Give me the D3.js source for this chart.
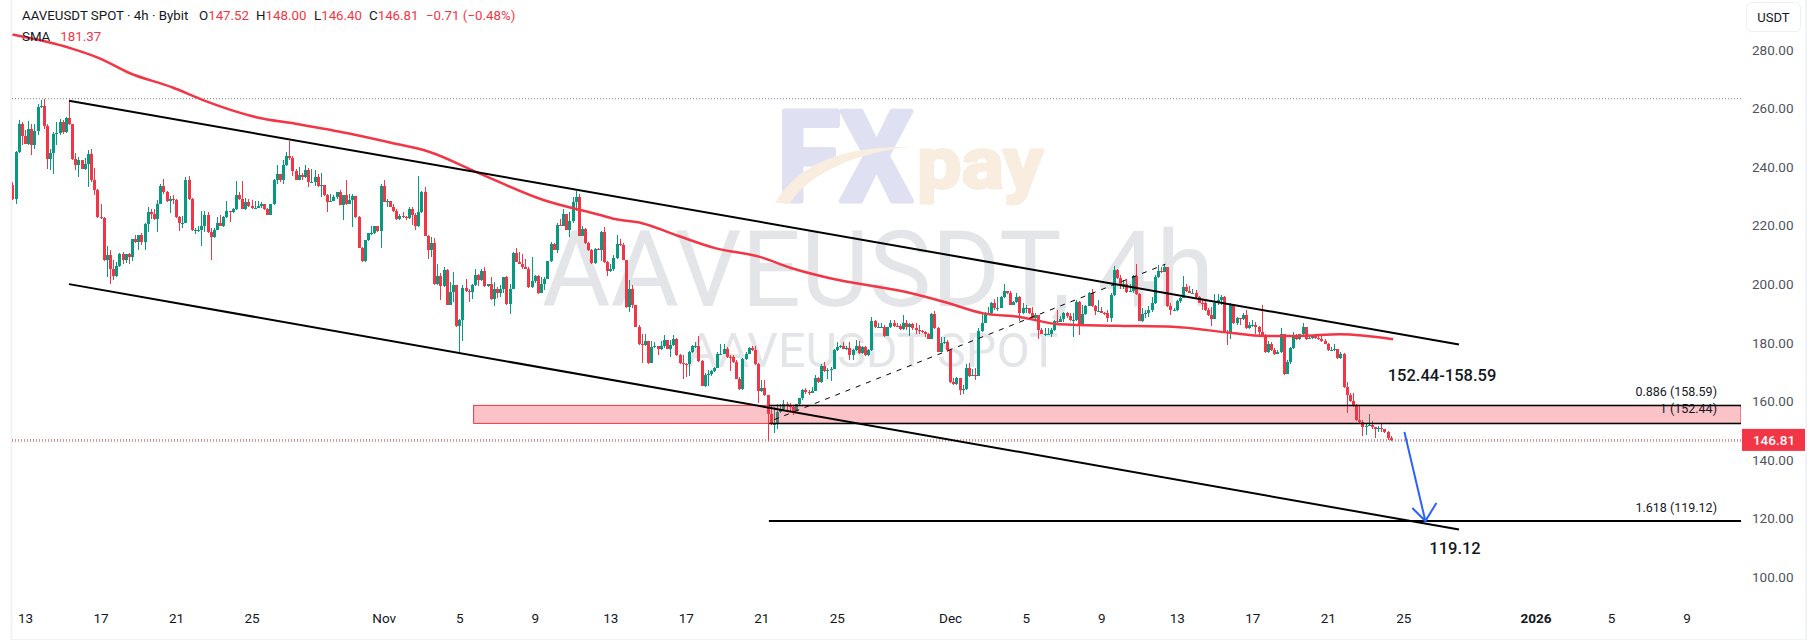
<!DOCTYPE html>
<html>
<head>
<meta charset="utf-8">
<style>
  html, body { margin: 0; padding: 0; background: #fff; overflow: hidden; }
  text { font-family: Roboto, sans-serif; }
</style>
<script src="https://cdn.jsdelivr.net/npm/d3@7"></script>
</head>
<body>
<div id="viz-container"></div>
<script>
let svgWidth = 1817;
let svgHeight = 641;

// 4h bars, first bar is 12 Oct 08:00
let firstOpen = 233.7;
let closes = [
228.9,245.1,254.6,250.6,247.8,252.8,247.5,252.2,260.3,260.7,253.9,242.6,244.6,251.2,251.6,255.3,251.9,256.7,254.8,242.6,
240.6,242.5,239.3,241.1,244.3,235.5,232,222.9,222.7,208.1,209.8,205.1,202.7,206.2,210.2,208.1,210.2,209.3,215.3,214.4,
216.7,214.3,220.4,224.6,223.9,222.3,227.5,233.4,231.5,228.4,229,228.6,222.9,220.9,220.9,235.4,228.9,218.4,218.6,218.6,
219.8,223.5,217.8,216.1,218.6,221,219.9,222.9,224.9,224.6,225.8,230.3,229,225.7,228,226.6,226.1,226.1,226.7,227.2,
225.8,223.6,227.2,235.7,237.7,235.7,240.6,243.7,243,238.6,235.7,237.2,236.4,238.9,234.8,235,236.4,233.4,233.8,230.4,
228.1,228.3,229.6,231.4,227,230.4,227.3,228.7,230,223,212.4,207.8,215,217.3,217.3,219.8,218.1,233.4,228.1,228.3,
226.4,225,222.2,223.3,223,222.6,225.8,223.5,219.9,224.7,231.5,216.5,211.6,213.9,200,202.7,199.3,204.8,193,197.4,
199.6,185.6,187.9,198.6,197.7,197.3,199.6,203,201.3,204.4,199.3,200.2,194.9,198.5,197,198.5,202.3,193.2,198.5,210.7,
207.6,207,205.7,205.3,199,201,202.8,197.1,200.2,201.9,207.8,213.6,211.8,220.1,220,223.9,218.6,221.6,227.9,229.8,
216.5,218.7,214,211.6,207.2,212.1,211.8,217.8,207.6,204.5,205,209,213.8,213.3,208.4,192.2,198.5,192.8,185.4,179.5,
179.1,180.5,173.2,178.6,179,177.8,178.8,180.8,178,179.1,181.4,175.7,172.9,172.7,172.6,176.9,178.8,179,173.8,165.2,
169.1,169.2,170.4,171.5,176,176.1,177.8,175.1,175,173.4,167.7,164.1,174.6,176.3,178.3,177.4,172.6,163.5,164.5,162,
155.8,152.2,152.3,156.4,157.5,159,158.5,157.9,156.8,158.9,161,163.8,163,162.8,163.6,168.1,166.6,171.9,170.4,170.6,
171.1,177.6,178.6,178.8,178,178.2,175.9,177.6,178.8,176.5,178.5,175.7,177.4,187.5,185.2,185.3,185.3,182.4,185.2,186.6,
185.7,185.6,184.7,186.6,185.2,186.3,184.9,184.3,184,183.7,182.9,181.4,189.7,184.9,176.9,180,180.1,177.4,166.6,165.9,
168.1,164,164.1,171.5,168.6,168.9,168.6,184,186.8,190,190.3,193.6,191.7,191.8,195.7,197.5,197,192.9,194,195.7,
190.2,191.7,191.8,190,188.5,189.4,184.3,183.1,183.1,183.1,184.5,187.5,187.1,188.1,190,189.2,187.7,187.7,193.9,185.6,
189.9,192.5,197,192.5,190.8,190.8,190.2,190,188.3,196.2,204.8,202.2,199.6,200,197.4,197.7,202.7,196.6,187.5,189.7,
190.2,191.1,193.4,202.5,204.5,204.2,205.7,192.5,191.1,191.3,194.3,195.4,198.9,197.7,197.1,197.1,195.7,193.7,193.4,191.1,
189.4,188,193.6,194.5,195.7,183.7,183.4,193.1,186.6,188.3,188,189.4,184.9,186,186.1,185.2,183.7,182.4,176.7,179.7,
177.5,176.3,176.7,182.9,169.3,173.3,178.3,181.8,181.1,182.9,185.2,181.4,181.5,182.2,181.7,181.4,180.6,179.7,177.5,177.5,
177.7,174.8,176.3,164.9,162,160.2,158.3,153.6,153,151.3,151.5,152,151.1,150.7,150.9,150.4,149.6,147.52,146.81
];
let highs = [
234.9,245.5,256.2,255.5,252.5,255.8,254.8,254.8,261.4,262.8,263.3,254.8,246.3,252,255.4,256.5,256.2,256.9,262.8,254.4,
244.8,243.4,242.5,242.9,245.7,246.3,239.8,232.6,227.3,223,212.9,211.6,208.4,207.6,210.7,211.1,210.4,210.7,215.5,216.7,
216.9,217.6,220.7,226.4,225.8,225.8,228.6,234.3,235.8,231.7,230.1,230.3,229,223.2,223.2,236.4,236.8,229.5,219,219.9,
225,225,224.6,219,219,222.9,223.5,223.2,228.3,225,226,235.1,231.5,235.1,229.5,229.2,228.6,228.4,228.3,228.1,
227.3,226.1,227.5,235.9,240.6,237.7,242.3,245.1,248.8,243.7,239.4,240,238,240.6,239.5,239.3,238.9,237.5,237.8,233.8,
230.9,230.7,230.4,231.5,232.3,230.4,235.5,230.9,230.6,230,223.2,212.7,215.2,217.3,219.8,219.9,219.9,234.3,235.5,229.2,
228.1,227.5,225.5,224.1,224.7,223.2,226.4,226.4,224.3,237,231.8,233,216.7,216.1,215.6,207,203.9,205.7,205,200.8,
204.2,199.6,188,199.6,201.6,198.2,200,205.3,203.4,205,205.9,200.2,202.3,200.8,199.1,199.6,202.5,202.8,200.2,211,
212.5,211,210.4,208.7,205.9,209.1,203,203,202.5,202.3,207.9,214.4,213.9,220.9,222.4,225.5,224.1,224.7,229.8,231.8,
230.7,220,219,214.4,212.1,212.5,212.4,218.2,219.5,207.9,207,209.9,216.7,215.5,214.1,208.4,201.5,199.6,192.9,186,
182.9,182.9,180.5,180.6,180.3,178.8,180.6,182.5,180.8,180.8,182.5,181.7,176.3,175.7,172.9,177.2,179.1,180.3,182.2,174.2,
169.5,170.6,170.6,171.7,176.8,179.5,179.5,178.6,175.7,175.7,174.2,168.3,174.9,176.8,178.5,178.8,179,173.1,167.2,167.4,
162.1,158.6,158.1,159.2,159.2,160.3,159.8,159.4,158.6,159.2,161.1,164.3,164.7,164,164.9,168.9,168.4,172.7,173.4,171.2,
171.7,177.9,180.3,179.1,180.3,179,180.3,178,181,180.6,178.8,178.8,178,188.8,187.9,186.8,186.8,186,185.4,187.7,
187.7,186.6,186.3,189.4,187.7,186.8,186.6,186.6,186,184.5,184,183.4,190,190.8,185.2,181.8,181.8,180.9,177.7,167.8,
168.4,167.9,165.5,172.7,172.9,170.9,171.2,184.9,190,190.5,192.2,193.9,194.8,195.7,195.9,200.2,197.8,197.7,194.3,196.8,
195.9,193.4,192.8,192,192.3,190,188.8,184.9,184.9,184.9,184.9,187.7,191.3,189,190.5,190.5,190,190,194.5,194.2,
192.8,192.8,197.4,198.5,192.8,194.5,192.2,190.5,191.1,196.8,206.1,205.3,203,201.4,201.9,200.2,203,207,197,191.7,
191.3,192.5,195.7,203,206.5,205.7,206.8,205.9,193.4,191.8,194.5,195.7,202.7,200.2,199.3,198.2,197.9,195.9,194.8,194.5,
191.7,192.3,196.5,196.6,196.2,195.9,184.3,193.4,193.1,188.8,188.6,190.1,191.3,187.1,187.9,187.1,185.7,192.8,182.8,180.5,
180.3,178.3,177.5,184.9,182.9,174,178.6,183.7,183.1,183.1,186.6,185.4,182.6,182.6,182.9,183.1,182.2,181.4,180,178.6,
179.7,178,176.9,176.5,166.6,162.9,162.9,159,158.7,153.6,152.4,155.6,153.2,151.2,151.5,152.2,150.7,149.8,148
];
let lows = [
228.6,227.3,244.8,247.6,247.7,247.4,244,246.3,250.8,260,253.1,239.4,238.9,237.7,247.4,250.8,251.4,251.6,254.2,242.3,
239.1,236.6,239.3,238.9,233.2,234.9,230.3,222.7,222.4,207.9,202.5,200,201.3,202.5,205.9,207,207.2,206.8,207.8,214.1,
211.6,213.3,211.6,217.8,222.4,222,217.8,227.3,230.9,228,224.4,227.5,222.7,218.2,219,220.9,228.6,218.2,217.2,217.8,
213,217.8,217.5,208.1,215.9,218.4,219.7,219.5,222.7,221.2,224.4,225.4,228.6,225.6,225.4,226.4,225.8,225.8,225.9,226.1,
225.4,223.5,223.5,227.1,234.1,234.9,234.1,240.2,242.3,236.8,235.5,236.5,235.6,236.2,233.2,234.6,233.4,233.2,229.8,230,
224.7,228.1,228.3,229.2,226.9,221.8,227,227.3,219.6,222.6,212.2,207.6,207.6,214.7,216.7,217,217.9,212.4,227.9,226.4,
226.2,224.7,221.8,222,222.7,221.8,222.1,220.1,218.4,219.6,224.3,216.4,208.7,209.1,199.6,199.6,194.5,199.1,192.8,192.8,
194,185.4,176.6,180.5,197.4,193.9,195,199.4,199.3,201.1,199.1,199.1,194.7,192.5,195.4,195.6,196.8,193,189.7,198.2,
207.5,206.8,205.3,205,198.7,198.8,200.4,196.6,197,197.9,201.6,207.5,211.6,210.7,219.9,219.8,218.4,216.1,221,225,
216.4,216.4,213.8,211.3,207,207,211.5,207.9,207.3,202.7,204.2,204.5,208.7,212.9,208.1,192,190.5,192,185.2,179.2,
173.1,179,172.6,173.2,178.3,175.7,177.6,178.3,177.8,175.1,178.8,175.6,172.6,167.5,168.3,168.6,176.5,178.3,173.5,165.1,
164.9,165.1,168.5,169.9,171.2,175.7,177.6,174.9,170.4,173.2,167.7,164,163.8,174.2,176,177.2,172.4,159.4,163.3,161.8,
146.4,151.9,149,150.7,156,156.9,156.9,156.4,155.2,156.6,158.5,160.6,162.6,162.3,162.8,164.6,166.3,166.3,170,167.7,
167,170.9,177.2,178.3,177.8,177.5,174,174.2,177.3,176.3,176.3,175.4,175.4,177,184.9,184.9,185.2,182,182.2,184.9,
185.4,185.4,184.5,184.5,184.5,182.2,184.3,183.1,183.1,183.4,181.8,181.1,181.3,184.6,176.7,176.7,179.5,176.9,166.4,165.5,
165.5,162.2,162.4,163.8,168.4,168.6,167.2,170.1,183.5,186.6,189.9,189.7,191.1,190.9,191.8,195.2,196.7,192.7,192.8,193.7,
187.5,189.7,190,189.7,188.3,187.7,181.1,182.9,182.2,182.9,182,184.1,186.6,186.9,186.9,188.6,187.5,182,187.4,182.6,
186.6,189.6,192.5,192.2,189.4,190.5,190,189.6,187.1,187.1,196,201.9,198.5,198.5,197,197.4,197,196.4,187.4,187.1,
188.3,188.8,190.5,193.2,202,203.9,204,192.3,189.4,190.8,190.9,193.7,195.1,197.4,196.8,196.8,195.3,193.4,191.3,190.9,
189.2,185.7,188,192.8,192.8,183.4,179.2,181.1,186.3,186.2,186.2,187.8,184.6,184.6,185.2,183.1,182.2,182.2,176.4,176.4,
177.2,175.7,176.3,176.5,169.1,169.2,172.7,177.9,180.9,180.9,182.5,180.9,181.2,181.2,181.4,180.9,180.3,179.4,177.2,177.1,
177.2,174.6,174.6,164.7,156,159.8,158.1,153.3,152.7,148.1,148.4,151.8,150.7,147.6,149.6,149.6,149.2,146.9,146.4
];

// SMA read at knots along the line: days since 13 Oct, value
let smaDays = [-0.66,2.44,3.95,5.56,7.79,9.43,12.24,14.49,17.1,19.15,21.4,24,27.46,30.46,31.25,32.68,34.5,36.55,38.97,40.57,42.64,46.66,48.7,50.7,52.75,54.77,57.8,60.8,63.8,65.6,67.4,69.65,72.46];
let smaValues = [285.2,280.5,277.1,272,267.2,262.8,257,254.6,251.5,248.6,245.2,238,228.7,223.6,222.2,220.8,216.7,212.3,209.2,205.5,202,197.3,193.9,190.1,188.7,186.3,185.8,185.4,183.4,182.3,182.3,182.9,181.2];

let priceTicks = [280,260,240,220,200,180,160,140,120,100];
let timeTickDays = [0,4,8,12,19,23,27,31,35,39,43,49,53,57,61,65,69,73,80,84,88];
let timeTickLabels = ["13","17","21","25","Nov","5","9","13","17","21","25","Dec","5","9","13","17","21","25","2026","5","9"];

let zoneLow = 152.44;
let zoneHigh = 158.59;
let zoneStartDay = 23.76;
let fibStartDay = 39.4;
let fibLevels = [158.59,152.44,119.12];
let fibWidths = [1.5,1.5,2];
let fibLabels = ["0.886 (158.59)","1 (152.44)","1.618 (119.12)"];

let upperChannelDays = [2.33,75.95];
let upperChannelPrices = [262.6,179.4];
let lowerChannelDays = [2.33,75.95];
let lowerChannelPrices = [200,116.2];
let dashDays = [39.67,60.4];
let dashPrices = [153.7,206.8];
let arrowDays = [73.06,74.17];
let arrowPrices = [149.5,119.1];
let lastPrice = 146.81;

let paneLeft = 12;
let paneRight = 1741;
let upColor = "#089981";
let downColor = "#f23645";

let viz = d3.select("#viz-container")
  .append("svg")
    .attr("width",svgWidth)
    .attr("height",svgHeight)
    .style("display","block")
    .style("background-color","white")
    ;

let xDay = d3.scaleLinear().domain([0,88]).range([25,1686.5]);
let y = d3.scaleLinear().domain([100,280]).range([577,49.8]);

function barX(i){
    // six bars per day, first one is 2/3 of a day before 13 Oct
    return xDay(-2/3 + i/6);
}

viz.append("defs").append("clipPath")
    .attr("id","pane")
  .append("rect")
    .attr("x",paneLeft)
    .attr("y",0)
    .attr("width",paneRight-paneLeft)
    .attr("height",svgHeight)
    ;

//// frame
viz.append("rect").attr("x",10.5).attr("y",0).attr("width",2).attr("height",640).attr("fill","#f0f3fa");
viz.append("rect").attr("x",1805).attr("y",0).attr("width",2).attr("height",640).attr("fill","#f0f3fa");
viz.append("rect").attr("x",10.5).attr("y",639).attr("width",1796).attr("height",1).attr("fill","#f0f3fa");

//// watermarks
let marks = viz.append("g").attr("class","watermark");
marks.append("text")
    .text("FX")
    .attr("x",777)
    .attr("y",201)
    .attr("textLength",136)
    .attr("lengthAdjust","spacingAndGlyphs")
    .attr("font-size",126)
    .attr("font-weight",700)
    .attr("fill","#dfe0f1")
    .attr("stroke","#dfe0f1")
    .attr("stroke-width",5)
    .attr("stroke-linejoin","round")
    ;
marks.append("path")
    .attr("d","M775 203 C 800 160, 850 146, 910 147 C 860 152, 810 172, 790 203 Z")
    .attr("fill","#f9ede0");
marks.append("text")
    .text("pay")
    .attr("x",917)
    .attr("y",188)
    .attr("textLength",126)
    .attr("lengthAdjust","spacingAndGlyphs")
    .attr("font-size",72)
    .attr("font-weight",700)
    .attr("fill","#f9ede0")
    .attr("stroke","#f9ede0")
    .attr("stroke-width",3)
    .attr("stroke-linejoin","round")
    ;
marks.append("text")
    .text("AAVEUSDT, 4h")
    .attr("x",878)
    .attr("y",306)
    .attr("text-anchor","middle")
    .attr("font-size",105)
    .attr("fill","#e4e5e8")
    ;
marks.append("text")
    .text("AAVEUSDT SPOT")
    .attr("x",872)
    .attr("y",367)
    .attr("text-anchor","middle")
    .attr("font-size",48.5)
    .attr("fill","#e4e5e8")
    ;

//// candles
let pane = viz.append("g").attr("clip-path","url(#pane)");

let bars = closes.map(function(c,i){
    return {i:i, open: i == 0 ? firstOpen : closes[i-1], close:c, high:highs[i], low:lows[i]};
});

function barColor(d){
    if(d.close >= d.open){
        return upColor;
    }else{
        return downColor;
    }
}

pane.selectAll(".wick").data(bars).enter()
  .append("rect")
    .attr("class","wick")
    .attr("x",function(d){ return Math.round(barX(d.i)); })
    .attr("y",function(d){ return y(d.high); })
    .attr("width",1)
    .attr("height",function(d){ return y(d.low)-y(d.high); })
    .attr("fill",barColor)
    .attr("shape-rendering","crispEdges")
    ;

pane.selectAll(".body").data(bars).enter()
  .append("rect")
    .attr("class","body")
    .attr("x",function(d){ return Math.round(barX(d.i))-1; })
    .attr("y",function(d){ return y(Math.max(d.open,d.close)); })
    .attr("width",3)
    .attr("height",function(d){ return Math.max(1,Math.abs(y(d.open)-y(d.close))); })
    .attr("fill",barColor)
    .attr("shape-rendering","crispEdges")
    ;

//// high, low and last price lines
pane.append("line")
    .attr("x1",paneLeft).attr("x2",paneRight)
    .attr("y1",y(d3.max(highs))).attr("y2",y(d3.max(highs)))
    .attr("stroke","#787b86")
    .attr("stroke-dasharray","1 2")
    ;
pane.append("line")
    .attr("x1",paneLeft).attr("x2",paneRight)
    .attr("y1",y(d3.min(lows))).attr("y2",y(d3.min(lows)))
    .attr("stroke","#787b86")
    .attr("stroke-dasharray","1 2")
    ;
pane.append("line")
    .attr("x1",paneLeft).attr("x2",paneRight)
    .attr("y1",y(lastPrice)).attr("y2",y(lastPrice))
    .attr("stroke",downColor)
    .attr("stroke-dasharray","1 2")
    ;

//// SMA
let smaLine = d3.line()
    .x(function(d){ return xDay(d); })
    .y(function(d,i){ return y(smaValues[i]); })
    .curve(d3.curveMonotoneX)
    ;
pane.append("path")
    .attr("d",smaLine(smaDays))
    .attr("fill","none")
    .attr("stroke",downColor)
    .attr("stroke-width",2.5)
    ;

//// zone and fib levels
pane.append("rect")
    .attr("x",xDay(zoneStartDay))
    .attr("y",y(zoneHigh))
    .attr("width",paneRight-xDay(zoneStartDay))
    .attr("height",y(zoneLow)-y(zoneHigh))
    .attr("fill",downColor)
    .attr("fill-opacity",0.3)
    .attr("stroke",downColor)
    .attr("stroke-width",1)
    ;

pane.selectAll(".fibLevel").data(fibLevels).enter()
  .append("line")
    .attr("class","fibLevel")
    .attr("x1",xDay(fibStartDay))
    .attr("x2",paneRight)
    .attr("y1",function(d){ return y(d); })
    .attr("y2",function(d){ return y(d); })
    .attr("stroke","black")
    .attr("stroke-width",function(d,i){ return fibWidths[i]; })
    ;

function drawSegment(days,prices,width){
    return pane.append("line")
        .attr("x1",xDay(days[0]))
        .attr("y1",y(prices[0]))
        .attr("x2",xDay(days[1]))
        .attr("y2",y(prices[1]))
        .attr("stroke","black")
        .attr("stroke-width",width)
        ;
}
drawSegment(upperChannelDays,upperChannelPrices,2);
drawSegment(lowerChannelDays,lowerChannelPrices,2);
drawSegment(dashDays,dashPrices,1).attr("stroke-dasharray","5 6");

//// arrow
let tipX = xDay(arrowDays[1]);
let tipY = y(arrowPrices[1]);
pane.append("path")
    .attr("d","M"+xDay(arrowDays[0])+" "+y(arrowPrices[0])+" L"+tipX+" "+tipY
        +" M"+(tipX-13)+" "+(tipY-13)+" L"+tipX+" "+tipY+" L"+(tipX+11)+" "+(tipY-18))
    .attr("fill","none")
    .attr("stroke","#2962ff")
    .attr("stroke-width",2)
    ;

//// text on the chart
let fibLabelY = [396,413,512];
pane.selectAll(".fibLabel").data(fibLabels).enter()
  .append("text")
    .attr("class","fibLabel")
    .text(function(d){ return d; })
    .attr("x",1717)
    .attr("y",function(d,i){ return fibLabelY[i]; })
    .attr("text-anchor","end")
    .attr("font-size",12.5)
    .attr("fill","#131722")
    ;
viz.append("text")
    .text("152.44-158.59")
    .attr("x",1442)
    .attr("y",381)
    .attr("text-anchor","middle")
    .attr("font-size",16.5)
    .attr("font-weight",500)
    .attr("fill","#131722")
    ;
viz.append("text")
    .text("119.12")
    .attr("x",1455)
    .attr("y",554)
    .attr("text-anchor","middle")
    .attr("font-size",16.5)
    .attr("font-weight",500)
    .attr("fill","#131722")
    ;

//// axes
let yAxis = d3.axisRight(y)
    .tickValues(priceTicks)
    .tickFormat(d3.format(".2f"))
    .tickSize(0)
    .tickPadding(0)
    ;
let yAxisG = viz.append("g")
    .attr("transform","translate(1752,0)")
    .call(yAxis)
    ;
yAxisG.select(".domain").remove();
yAxisG.selectAll("text")
    .attr("font-size",13.5)
    .attr("font-family","Roboto, sans-serif")
    .attr("fill","#50535e")
    ;

let xAxis = d3.axisBottom(xDay)
    .tickValues(timeTickDays)
    .tickFormat(function(d,i){ return timeTickLabels[i]; })
    .tickSize(0)
    .tickPadding(0)
    ;
let xAxisG = viz.append("g")
    .attr("transform","translate(0,613)")
    .call(xAxis)
    ;
xAxisG.select(".domain").remove();
xAxisG.selectAll("text")
    .attr("font-size",13.5)
    .attr("font-family","Roboto, sans-serif")
    .attr("fill","#131722")
    .attr("font-weight",function(d,i){
        if(timeTickLabels[i] == "2026"){
            return 700;
        }
        return 400;
    })
    ;

//// last price tag
viz.append("rect")
    .attr("x",1742)
    .attr("y",y(lastPrice)-11)
    .attr("width",63)
    .attr("height",22)
    .attr("fill",downColor)
    ;
viz.append("text")
    .text(d3.format(".2f")(lastPrice))
    .attr("x",1774)
    .attr("y",y(lastPrice)+5)
    .attr("text-anchor","middle")
    .attr("font-size",13.5)
    .attr("font-weight",500)
    .attr("fill","white")
    ;

//// currency button
viz.append("rect")
    .attr("x",1746.5)
    .attr("y",2.5)
    .attr("width",54)
    .attr("height",29)
    .attr("rx",5)
    .attr("fill","white")
    .attr("stroke","#eef0f3")
    ;
viz.append("text")
    .text("USDT")
    .attr("x",1773.5)
    .attr("y",22)
    .attr("text-anchor","middle")
    .attr("font-size",13)
    .attr("fill","#131722")
    ;

//// legend
let legendSize = 13.3;
let dark = "#131722";
let legendParts = [
    {x:22, text:"AAVEUSDT SPOT · 4h · Bybit", fill:dark},
    {x:199, text:"O", fill:dark},
    {x:256, text:"H", fill:dark},
    {x:314, text:"L", fill:dark},
    {x:369, text:"C", fill:dark},
    {x:426, text:"−0.71 (−0.48%)", fill:downColor}
];
let legendValues = ["147.52","148.00","146.40","146.81"];
let legendRow = viz.append("text")
    .attr("y",20)
    .attr("font-size",legendSize)
    ;
legendParts.forEach(function(part,i){
    legendRow.append("tspan").attr("x",part.x).attr("fill",part.fill).text(part.text);
    if(i >= 1 && i <= 4){
        legendRow.append("tspan").attr("fill",downColor).text(legendValues[i-1]);
    }
});

let smaRow = viz.append("text")
    .attr("x",22)
    .attr("y",41)
    .attr("font-size",legendSize)
    .attr("fill",dark)
    ;
smaRow.append("tspan").text("SMA");
smaRow.append("tspan").attr("dx",10).attr("fill",downColor).text("181.37");
</script>
</body>
</html>
